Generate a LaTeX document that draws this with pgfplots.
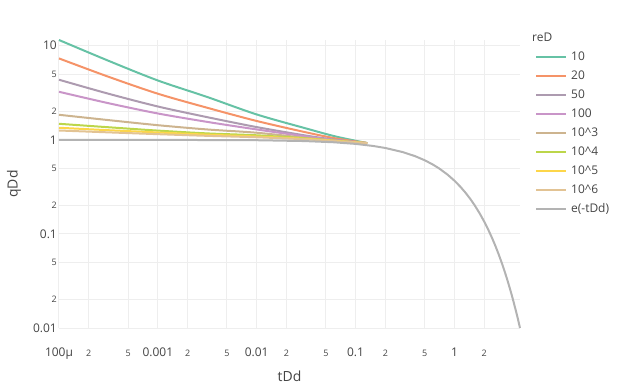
\documentclass[border=0pt]{standalone}
\usepackage{pgfplots}
\pgfplotsset{compat=1.18}
\usepackage{fontspec}
\setmainfont{Open Sans}
\definecolor{cA}{HTML}{66C2A5}
\definecolor{cB}{HTML}{F59368}
\definecolor{cC}{HTML}{AD9BB0}
\definecolor{cD}{HTML}{C995C8}
\definecolor{cE}{HTML}{CDB48F}
\definecolor{cF}{HTML}{BCD64A}
\definecolor{cG}{HTML}{FDD64A}
\definecolor{cH}{HTML}{E2C394}
\definecolor{cI}{HTML}{B3B3B3}
\definecolor{gridc}{HTML}{EEEEEE}
\definecolor{textc}{HTML}{444444}
\newcommand{\mn}[1]{{\fontsize{9}{10}\selectfont #1}}
\begin{document}
\begin{tikzpicture}
\begin{axis}[
  at={(0,0)}, anchor=south west,
  scale only axis, width=461bp, height=288bp,
  xmode=log, ymode=log,
  xmin=1e-4, xmax=4.605, ymin=0.01, ymax=11.5,
  axis line style={draw=none},
  tick style={draw=none},
  major tick length=0pt, minor tick length=0pt,
  grid=major, major grid style={color=gridc, line width=1bp},
  xtick={1e-4,2e-4,5e-4,1e-3,2e-3,5e-3,1e-2,2e-2,5e-2,1e-1,2e-1,5e-1,1,2},
  xticklabels={{100μ},\mn{2},\mn{5},{0.001},\mn{2},\mn{5},{0.01},\mn{2},\mn{5},{0.1},\mn{2},\mn{5},{1},\mn{2}},
  ytick={0.01,0.02,0.05,0.1,0.2,0.5,1,2,5,10},
  yticklabels={{0.01},\mn{2},\mn{5},{0.1},\mn{2},\mn{5},{1},\mn{2},\mn{5},{10}},
  xticklabel style={anchor=base, yshift=-28bp, font=\fontsize{12}{14}\selectfont, text=textc},
  yticklabel style={anchor=east, inner sep=0pt, xshift=-2bp, font=\fontsize{12}{14}\selectfont, text=textc},
  xlabel={tDd}, ylabel={qDd},
  xlabel style={at={(axis description cs:0.5,-0.1667)}, anchor=center, font=\fontsize{14}{16}\selectfont, text=textc},
  ylabel style={at={(axis description cs:-0.0976,0.5)}, anchor=center, rotate=0, font=\fontsize{14}{16}\selectfont, text=textc},
  legend style={at={(axis description cs:1,1)}, anchor=north west, xshift=12bp, yshift=-8bp,
    draw=none, fill=none, font=\fontsize{12}{14}\selectfont, text=textc,
    nodes={inner sep=1bp, text height=9bp, text depth=3bp}, row sep=5bp, column sep=3bp},
  legend cell align=left,
  legend image code/.code={\draw[#1, line width=2bp] (0bp,0bp) -- (30bp,0bp);},
  every axis plot/.append style={line width=2bp, no markers},
  clip=false,
]
\addplot[cA, smooth] coordinates {(1e-4,11.5) (3.162e-4,6.92) (1e-3,4.27) (3.162e-3,2.85) (1e-2,1.86) (3.162e-2,1.32) (6.31e-2,1.084) (0.131,0.923)};
\addlegendentry{10}
\addplot[cB, smooth] coordinates {(1e-4,7.33) (3.162e-4,4.68) (1e-3,3.09) (3.162e-3,2.19) (1e-2,1.585) (3.162e-2,1.20) (6.31e-2,1.035) (0.131,0.923)};
\addlegendentry{20}
\addplot[cC, smooth] coordinates {(1e-4,4.35) (3.162e-4,3.09) (1e-3,2.26) (3.162e-3,1.74) (1e-2,1.365) (3.162e-2,1.109) (6.31e-2,1.0) (0.131,0.923)};
\addlegendentry{50}
\addplot[cD, smooth] coordinates {(1e-4,3.24) (3.162e-4,2.45) (1e-3,1.905) (3.162e-3,1.55) (1e-2,1.288) (3.162e-2,1.084) (6.31e-2,0.989) (0.131,0.923)};
\addlegendentry{100}
\addplot[cE, smooth] coordinates {(1e-4,1.845) (3.162e-4,1.62) (1e-3,1.43) (3.162e-3,1.288) (1e-2,1.189) (3.162e-2,1.047) (6.31e-2,0.977) (0.131,0.923)};
\addlegendentry{10\^{}3}
\addplot[cF, smooth] coordinates {(1e-4,1.48) (3.162e-4,1.36) (1e-3,1.253) (3.162e-3,1.17) (1e-2,1.117) (3.162e-2,1.035) (6.31e-2,0.977) (0.131,0.923)};
\addlegendentry{10\^{}4}
\addplot[cG, smooth] coordinates {(1e-4,1.343) (3.162e-4,1.265) (1e-3,1.197) (3.162e-3,1.135) (1e-2,1.084) (3.162e-2,1.023) (6.31e-2,0.973) (0.131,0.923)};
\addlegendentry{10\^{}5}
\addplot[cH, smooth] coordinates {(1e-4,1.256) (3.162e-4,1.2) (1e-3,1.148) (3.162e-3,1.102) (1e-2,1.064) (3.162e-2,1.012) (6.31e-2,0.966) (0.131,0.923)};
\addlegendentry{10\^{}6}
\addplot[cI] coordinates {(1e-4,0.9999) (1e-3,0.999) (0.01,0.990) (0.03,0.9704) (0.06,0.9418) (0.1,0.9048) (0.15,0.8607) (0.2,0.8187) (0.3,0.7408) (0.4,0.6703) (0.5,0.6065) (0.6,0.5488) (0.7,0.4966) (0.85,0.4274) (1.0,0.3679) (1.15,0.3166) (1.3,0.2725) (1.45,0.2346) (1.6,0.2019) (1.8,0.1653) (2.0,0.1353) (2.2,0.1108) (2.4,0.0907) (2.6,0.0743) (2.8,0.0608) (3.0,0.0498) (3.2,0.0408) (3.4,0.0334) (3.6,0.0273) (3.8,0.0224) (4.0,0.0183) (4.2,0.0150) (4.4,0.0123) (4.605,0.0100)};
\addlegendentry{e(-tDd)}
\node[anchor=west, font=\fontsize{12}{14}\selectfont, text=textc, inner sep=0pt] at ([xshift=12bp, yshift=3bp]rel axis cs:1,1) {reD};
\end{axis}
\path[use as bounding box] (-59bp,-56bp) rectangle (565bp,328bp);
\end{tikzpicture}
\end{document}
